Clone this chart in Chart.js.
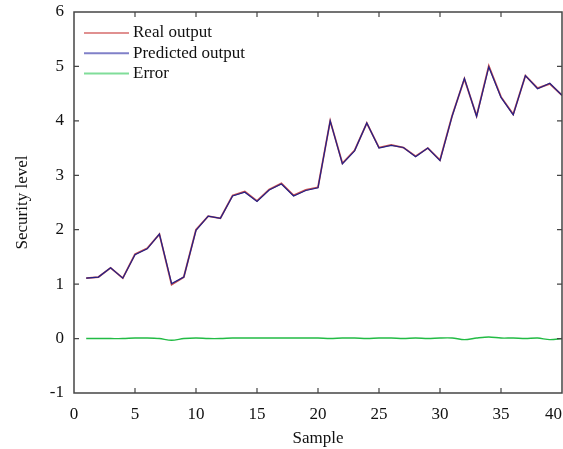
<!DOCTYPE html>
<html>
<head>
<meta charset="utf-8">
<script src="https://cdn.jsdelivr.net/npm/chart.js@4.4.1/dist/chart.umd.min.js"></script>
<style>
  html, body { margin: 0; padding: 0; background: #fff; overflow: hidden; }
  #wrap { width: 563px; height: 449px; }
</style>
</head>
<body>
<div id="wrap"><canvas id="chart" width="563" height="449"></canvas></div>
<script>
// sample index on the x axis
const samples = [1, 2, 3, 4, 5, 6, 7, 8, 9, 10, 11, 12, 13, 14, 15, 16, 17, 18, 19, 20,
  21, 22, 23, 24, 25, 26, 27, 28, 29, 30, 31, 32, 33, 34, 35, 36, 37, 38, 39, 40];

const realOutput = [1.11, 1.13, 1.30, 1.11, 1.55, 1.66, 1.92, 0.99, 1.13, 2.00,
  2.25, 2.21, 2.63, 2.70, 2.53, 2.74, 2.85, 2.63, 2.73, 2.78,
  4.00, 3.22, 3.46, 3.96, 3.51, 3.56, 3.51, 3.35, 3.50, 3.28,
  4.10, 4.77, 4.09, 5.01, 4.44, 4.12, 4.83, 4.60, 4.68, 4.47];

const predictedOutput = [1.11, 1.13, 1.30, 1.11, 1.54, 1.65, 1.92, 1.01, 1.13, 1.99,
  2.25, 2.21, 2.62, 2.69, 2.52, 2.73, 2.84, 2.62, 2.72, 2.77,
  4.00, 3.21, 3.45, 3.96, 3.50, 3.55, 3.51, 3.34, 3.50, 3.27,
  4.09, 4.78, 4.08, 4.99, 4.43, 4.11, 4.83, 4.59, 4.69, 4.47];

const errorValues = [0, 0, 0, 0, 0.01, 0.01, 0, -0.03, 0, 0.01,
  0, 0, 0.01, 0.01, 0.01, 0.01, 0.01, 0.01, 0.01, 0.01,
  0, 0.01, 0.01, 0, 0.01, 0.01, 0, 0.01, 0, 0.01,
  0.01, -0.02, 0.01, 0.03, 0.01, 0.01, 0, 0.01, -0.02, 0];

const xTicks = [0, 5, 10, 15, 20, 25, 30, 35, 40];
const yTicks = [-1, 0, 1, 2, 3, 4, 5, 6];

const legendNames = ["Real output", "Predicted output", "Error"];
const legendColors = ["#e09090", "#8080c8", "#80dd99"];

const serif = "'Liberation Serif', 'Times New Roman', serif";

function toPoints(values) {
  return values.map((v, i) => ({ x: samples[i], y: v }));
}

// frame, inward ticks, x labels and legend
const framePlugin = {
  id: "frame",
  afterDraw(chart) {
    const ctx = chart.ctx;
    const a = chart.chartArea;
    const xs = chart.scales.x;
    const ys = chart.scales.y;
    const tl = 5;

    ctx.save();
    ctx.strokeStyle = "#454545";
    ctx.lineWidth = 1.5;
    ctx.strokeRect(a.left, a.top, a.right - a.left, a.bottom - a.top);

    ctx.lineWidth = 1.2;
    ctx.beginPath();
    xTicks.forEach(t => {
      const px = xs.getPixelForValue(t);
      if (px <= a.left + 1 || px >= a.right - 1) return;
      ctx.moveTo(px, a.bottom); ctx.lineTo(px, a.bottom - tl);
      ctx.moveTo(px, a.top); ctx.lineTo(px, a.top + tl);
    });
    yTicks.forEach(t => {
      const py = ys.getPixelForValue(t);
      if (py <= a.top + 1 || py >= a.bottom - 1) return;
      ctx.moveTo(a.left, py); ctx.lineTo(a.left + tl, py);
      ctx.moveTo(a.right, py); ctx.lineTo(a.right - tl, py);
    });
    ctx.stroke();

    // x tick labels, last one kept inside the canvas
    ctx.fillStyle = "#111";
    ctx.font = "17px " + serif;
    ctx.textBaseline = "middle";
    xTicks.forEach(t => {
      const px = xs.getPixelForValue(t);
      const txt = String(t);
      const w = ctx.measureText(txt).width;
      let left = px - w / 2;
      if (left + w > chart.width - 1) left = chart.width - 1 - w;
      ctx.textAlign = "left";
      ctx.fillText(txt, left, a.bottom + 22);
    });

    // legend inside the plot
    legendNames.forEach((name, i) => {
      const y = a.top + 21 + i * 20.3;
      ctx.strokeStyle = legendColors[i];
      ctx.lineWidth = 2;
      ctx.beginPath();
      ctx.moveTo(a.left + 10, y);
      ctx.lineTo(a.left + 55, y);
      ctx.stroke();
      ctx.fillStyle = "#111";
      ctx.textAlign = "left";
      ctx.fillText(name, a.left + 59, y);
    });
    ctx.restore();
  }
};

new Chart(document.getElementById("chart"), {
  type: "line",
  data: {
    datasets: [
      {
        label: "Real output",
        data: toPoints(realOutput),
        borderColor: "#c85050",
        borderWidth: 1.8,
        pointRadius: 0,
        tension: 0,
        order: 2
      },
      {
        label: "Predicted output",
        data: toPoints(predictedOutput),
        borderColor: "#222288",
        borderWidth: 1.2,
        pointRadius: 0,
        tension: 0,
        order: 1
      },
      {
        label: "Error",
        data: toPoints(errorValues),
        borderColor: "#22bb44",
        borderWidth: 1.4,
        pointRadius: 0,
        tension: 0.3,
        order: 3
      }
    ]
  },
  options: {
    responsive: false,
    animation: false,
    layout: { padding: { top: 12, right: 1, left: 0, bottom: 0 } },
    plugins: {
      legend: { display: false },
      tooltip: { enabled: false }
    },
    scales: {
      x: {
        type: "linear",
        min: 0,
        max: 40,
        grid: { display: false },
        border: { display: false },
        ticks: { display: false },
        title: {
          display: true,
          text: "Sample",
          color: "#111",
          font: { family: serif, size: 17 },
          padding: { top: 0, bottom: 0 }
        },
        afterFit: scale => {
          scale.height = 56;
          scale.paddingLeft = 0;
          scale.paddingRight = 0;
        }
      },
      y: {
        min: -1,
        max: 6,
        grid: { display: false, drawTicks: false },
        border: { display: false },
        ticks: {
          stepSize: 1,
          padding: 10,
          color: "#111",
          font: { family: serif, size: 17 }
        },
        title: {
          display: true,
          text: "Security level",
          color: "#111",
          font: { family: serif, size: 17 },
          padding: { top: 12, bottom: 0 }
        },
        afterFit: scale => {
          scale.width = 74;
          scale.paddingTop = 0;
          scale.paddingBottom = 0;
        }
      }
    }
  },
  plugins: [framePlugin]
});
</script>
</body>
</html>
